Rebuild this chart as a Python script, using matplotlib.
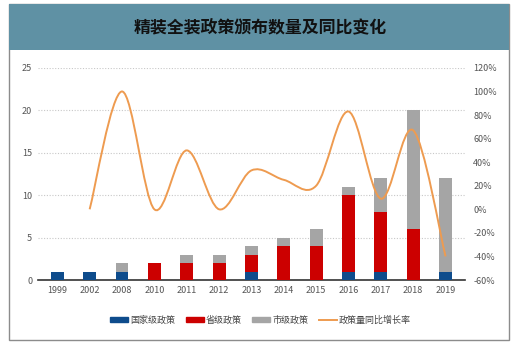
import matplotlib.pyplot as plt
import numpy as np
from matplotlib.path import Path
from matplotlib.patches import PathPatch, Rectangle
from matplotlib.lines import Line2D
from matplotlib.patches import Patch

plt.rcParams['font.family'] = ['Noto Sans CJK SC', 'DejaVu Sans']

years = ['1999', '2002', '2008', '2010', '2011', '2012', '2013', '2014',
         '2015', '2016', '2017', '2018', '2019']
national = [1, 1, 1, 0, 0, 0, 1, 0, 0, 1, 1, 0, 1]
provincial = [0, 0, 0, 2, 2, 2, 2, 4, 4, 9, 7, 6, 0]
city = [0, 0, 1, 0, 1, 1, 1, 1, 2, 1, 4, 14, 11]
# growth rate (%) from 2002 onward
growth_years = years[1:]
growth = [0, 100, 0, 50, 0, 33, 25, 20, 83, 9, 67, -40]

c_nat = '#0E4C8C'
c_prov = '#CC0000'
c_city = '#A5A5A5'
c_line = '#EE9B50'

fig = plt.figure(figsize=(5.26, 3.5), dpi=100)

# outer frame and title band
fig.patches.append(Rectangle((9 / 526, 10 / 350), 500 / 526, 336 / 350,
                             transform=fig.transFigure, fill=False,
                             edgecolor='#8C8C8C', lw=1.0))
fig.patches.append(Rectangle((9 / 526, 300 / 350), 500 / 526, 46 / 350,
                             transform=fig.transFigure, facecolor='#5F91A4',
                             edgecolor='none'))
fig.text(0.495, 0.921, '精装全装政策颁布数量及同比变化', ha='center', va='center',
         fontsize=12.2, fontweight='bold', color='#111111')

ax = fig.add_axes([0.072, 0.2, 0.812, 0.606])
x = np.arange(len(years))
w = 0.4
ax.bar(x, national, w, color=c_nat, zorder=3)
ax.bar(x, provincial, w, bottom=national, color=c_prov, zorder=3)
ax.bar(x, city, w, bottom=np.array(national) + np.array(provincial),
       color=c_city, zorder=3)

ax.set_ylim(0, 25)
ax.set_yticks(range(0, 26, 5))
ax.set_xlim(-0.6, len(years) - 0.4)
ax.set_xticks(x)
ax.set_xticklabels(years)
ax.grid(axis='y', linestyle=(0, (1, 1.5)), color='#C8C8C8', lw=0.8, zorder=0)
for s in ['top', 'right', 'left']:
    ax.spines[s].set_visible(False)
ax.spines['bottom'].set_color('#333333')
ax.spines['bottom'].set_linewidth(1.2)
ax.tick_params(axis='both', length=0, labelsize=6.5, colors='#555555', pad=4)

ax2 = ax.twinx()
ax2.set_ylim(-60, 120)
ax2.set_yticks(range(-60, 121, 20))
ax2.set_yticklabels([f'{v}%' for v in range(-60, 121, 20)])
for s in ax2.spines.values():
    s.set_visible(False)
ax2.tick_params(axis='y', length=0, labelsize=6.5, colors='#555555', pad=6)

# smoothed line through growth points (cubic Bezier segments)
gx = np.arange(1, len(years), dtype=float)
gy = np.array(growth, dtype=float)
n = len(gx)
verts = [(gx[0], gy[0])]
codes = [Path.MOVETO]
t = 1 / 6
for i in range(n - 1):
    p0 = np.array([gx[max(i - 1, 0)], gy[max(i - 1, 0)]])
    p1 = np.array([gx[i], gy[i]])
    p2 = np.array([gx[i + 1], gy[i + 1]])
    p3 = np.array([gx[min(i + 2, n - 1)], gy[min(i + 2, n - 1)]])
    c1 = p1 + (p2 - p0) * t
    c2 = p2 - (p3 - p1) * t
    verts += [tuple(c1), tuple(c2), tuple(p2)]
    codes += [Path.CURVE4] * 3
ax2.add_patch(PathPatch(Path(verts, codes), fill=False, edgecolor=c_line,
                        lw=1.4, zorder=4))

handles = [Patch(color=c_nat), Patch(color=c_prov), Patch(color=c_city),
           Line2D([], [], color=c_line, lw=1.4)]
labels = ['国家级政策', '省级政策', '市级政策', '政策量同比增长率']
fig.legend(handles, labels, loc='center', bbox_to_anchor=(0.495, 0.085),
           ncol=4, frameon=False, fontsize=6.5, handlelength=2.0,
           handleheight=0.45, handletextpad=0.2, columnspacing=1.2,
           labelcolor='#444444')

fig.savefig('out.png', dpi=100)
